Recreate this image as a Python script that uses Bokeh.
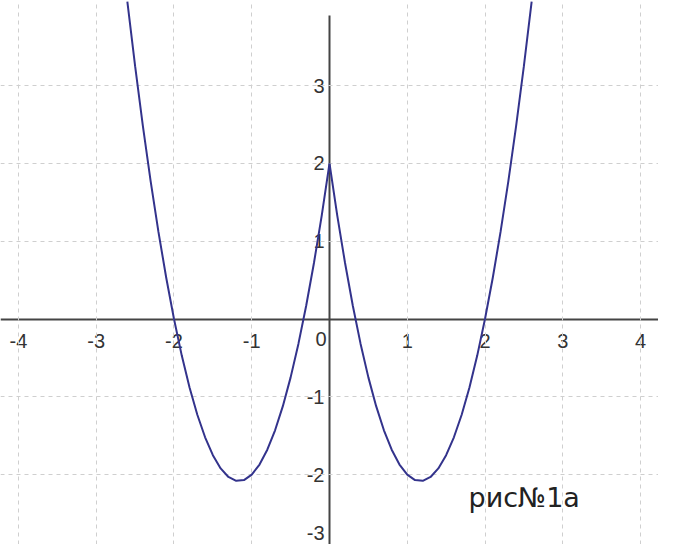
from bokeh.plotting import figure
from bokeh.models import Range1d, LinearAxis, FixedTicker, Label, Grid
from bokeh.embed import file_html
from bokeh.resources import INLINE

# Curve points
X = [-2.6, -2.5, -2.4, -2.3, -2.2, -2.1, -2.0, -1.9, -1.8, -1.7, -1.6, -1.5, -1.4,
     -1.3, -1.2, -1.1, -1.0, -0.9, -0.8, -0.7, -0.6, -0.5, -0.4, -0.3, -0.2, -0.1,
     0.0,
     0.1, 0.2, 0.3, 0.4, 0.5, 0.6, 0.7, 0.8, 0.9, 1.0, 1.1, 1.2, 1.3,
     1.4, 1.5, 1.6, 1.7, 1.8, 1.9, 2.0, 2.1, 2.2, 2.3, 2.4, 2.5, 2.6]
Y = [4.08, 3.25, 2.48, 1.77, 1.12, 0.53, 0.0, -0.47, -0.88, -1.23, -1.52, -1.75, -1.92,
     -2.03, -2.08, -2.07, -2.0, -1.87, -1.68, -1.43, -1.12, -0.75, -0.32, 0.17, 0.72, 1.33,
     2.0,
     1.33, 0.72, 0.17, -0.32, -0.75, -1.12, -1.43, -1.68, -1.87, -2.0, -2.07, -2.08, -2.03,
     -1.92, -1.75, -1.52, -1.23, -0.88, -0.47, 0.0, 0.53, 1.12, 1.77, 2.48, 3.25, 4.08]

X_TICKS = [-4, -3, -2, -1, 1, 2, 3, 4]
X_TICK_LABELS = ["-4", "-3", "-2", "-1", "1", "2", "3", "4"]
Y_TICKS = [-3, -2, -1, 1, 2, 3]
Y_TICK_LABELS = ["-3", "-2", "-1", "1", "2", "3"]
ORIGIN_LABEL = "0"
CAPTION = "рис№1а"

FONT = "Liberation Sans"
AXIS_COLOR = "#444444"
LABEL_COLOR = "#333333"
GRID_COLOR = "#cfcfcf"
CURVE_COLOR = "#33338c"

X_MIN, X_MAX = -4.2315, 4.2315
Y_MIN, Y_MAX = -2.898, 4.094

p = figure(width=658, height=544,
           x_range=Range1d(X_MIN, X_MAX), y_range=Range1d(Y_MIN, Y_MAX),
           x_axis_type=None, y_axis_type=None,
           output_backend="svg", toolbar_location=None,
           min_border=0, outline_line_color=None,
           background_fill_color="white", border_fill_color="white")

# labels visible inside the frame go on the axis; the lowest one is placed as a label
y_axis_ticks = [t for t in Y_TICKS if t > Y_MIN]

xaxis = LinearAxis(fixed_location=0, ticker=FixedTicker(ticks=X_TICKS),
                   major_label_overrides={t: s for t, s in zip(X_TICKS, X_TICK_LABELS)},
                   axis_line_color=AXIS_COLOR, axis_line_width=2,
                   major_tick_in=0, major_tick_out=0, minor_tick_line_color=None,
                   major_label_text_font=FONT, major_label_text_font_size="20px",
                   major_label_text_color=LABEL_COLOR, major_label_standoff=15,
                   level="underlay")
yaxis = LinearAxis(fixed_location=0, ticker=FixedTicker(ticks=y_axis_ticks),
                   bounds=(Y_MIN, 3.9),
                   major_label_overrides={t: s for t, s in zip(Y_TICKS, Y_TICK_LABELS)},
                   axis_line_color=AXIS_COLOR, axis_line_width=2,
                   major_tick_in=0, major_tick_out=0, minor_tick_line_color=None,
                   major_label_text_font=FONT, major_label_text_font_size="20px",
                   major_label_text_color=LABEL_COLOR, major_label_standoff=5,
                   level="underlay")
p.add_layout(xaxis, "below")
p.add_layout(yaxis, "left")

p.add_layout(Grid(dimension=0, ticker=FixedTicker(ticks=X_TICKS), grid_line_color=GRID_COLOR,
                  grid_line_dash="4 4", grid_line_width=1))
p.add_layout(Grid(dimension=1, ticker=FixedTicker(ticks=Y_TICKS), grid_line_color=GRID_COLOR,
                  grid_line_dash="4 4", grid_line_width=1))

p.line(X, Y, line_color=CURVE_COLOR, line_width=2)

p.add_layout(Label(x=0, y=0, text=ORIGIN_LABEL, x_offset=-3, y_offset=-13,
                   text_align="right", text_baseline="top",
                   text_font=FONT, text_font_size="20px", text_color=LABEL_COLOR))
# lowest y tick label, pushed up to the bottom edge so it stays readable
p.add_layout(Label(x=0, y=Y_MIN, text=Y_TICK_LABELS[0], x_offset=-5, y_offset=5,
                   text_align="right", text_baseline="bottom",
                   text_font=FONT, text_font_size="20px", text_color=LABEL_COLOR))
p.add_layout(Label(x=1.788, y=-2.294, text=CAPTION,
                   text_align="left", text_baseline="alphabetic",
                   text_font="DejaVu Sans", text_font_size="27px", text_color="#222222"))

open("out.html", "w").write(file_html(p, INLINE))
